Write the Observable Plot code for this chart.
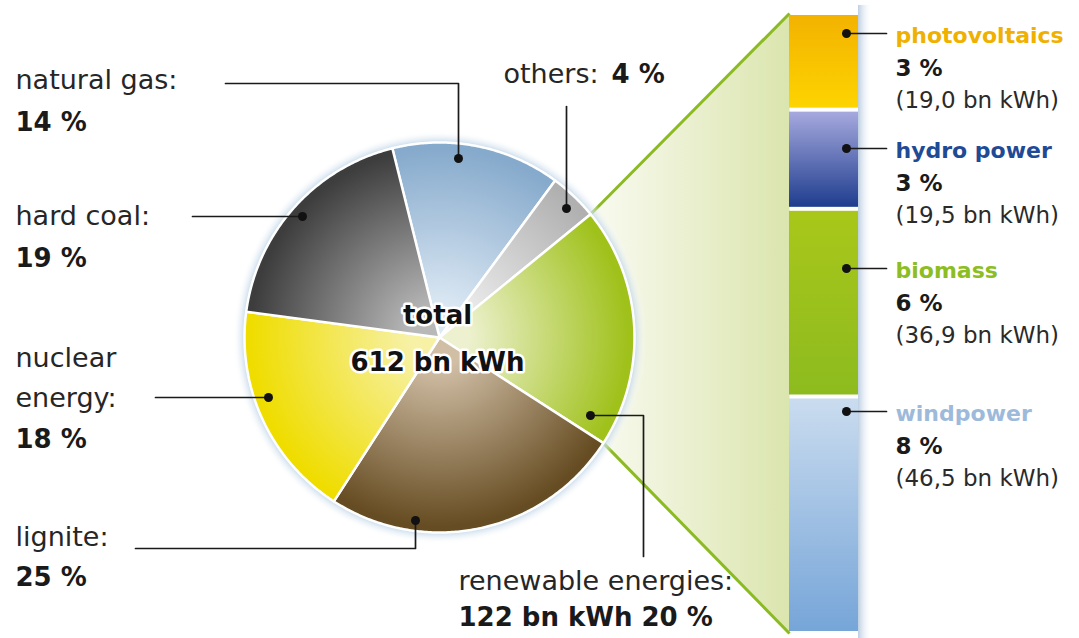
<!DOCTYPE html>
<html><head><meta charset="utf-8">
<script src="https://cdn.jsdelivr.net/npm/d3@7"></script>
<script src="https://cdn.jsdelivr.net/npm/@observablehq/plot@0.6"></script>
<style>
html,body{margin:0;padding:0;background:#fff;overflow:hidden;}
#chart{position:relative;width:1079px;height:638px;}
#chart svg{position:absolute;left:0;top:0;max-width:none;}
</style></head><body><div id="chart"></div>
<script>
// ---------------- DATA ----------------
const sources = ["natural gas", "others", "renewable energies", "lignite", "nuclear energy", "hard coal"];
const shares = [14, 4, 20, 25, 18, 19];            // % of gross electricity production
const totalKWh = 612;                               // bn kWh
const renewableKWh = 122;                           // bn kWh
const renewSources = ["photovoltaics", "hydro power", "biomass", "windpower"];
const renewShares = [3, 3, 6, 8];                   // %
const renewKWh = [19.0, 19.5, 36.9, 46.5];          // bn kWh

// ---------------- LAYOUT / STYLE ----------------
const W = 1079, H = 638;
const CX = 439, CY = 337, R = 195, START_DEG = -14;
const BAR_PX = {left: 789, right: 858, top: 13, bottom: 633};
const FONT = "DejaVu Sans";
const pieColors = [
  ["#dde9f4", "#86aacc"], // natural gas
  ["#efefef", "#b0b0b0"], // others
  ["#edf1cf", "#9fc11a"], // renewables
  ["#d0bea5", "#664c22"], // lignite
  ["#f7f1a6", "#efdd00"], // nuclear
  ["#b8b8b8", "#3d3d3d"]  // hard coal
];
const barColors = [["#f3b200", "#fdd400"], ["#a6a9de", "#1f3d8e"], ["#a9c71a", "#8dbb1f"], ["#cadcef", "#76a5d8"]];
const renewLabelColors = ["#f0b000", "#1f4a96", "#8cbd22", "#9dbadb"];

// ---------------- PLOT B: renewable bar ----------------
const renewTotal = d3.sum(renewKWh);
const barData = renewSources.map((s, i) => ({source: s, value: renewKWh[i], grad: `url(#bar-${i})`}));
const plotB = Plot.plot({
  width: W, height: H, margin: 0,
  style: {background: "transparent", overflow: "visible"},
  x: {domain: [0, 1], range: [BAR_PX.left, BAR_PX.right], axis: null},
  y: {domain: [0, renewTotal], range: [BAR_PX.bottom, BAR_PX.top], axis: null},
  color: {type: "identity"},
  marks: [
    Plot.rect([0], {x1: 1, x2: 1.2, y1: -0.01 * renewTotal, y2: 1.013 * renewTotal, fill: "url(#barShadow)"}),
    Plot.rectY(barData, Plot.stackY({x1: 0, x2: 1, y: "value", fill: "grad", reverse: true, insetTop: 2, insetBottom: 2}))
  ]
});
const xB = plotB.scale("x"), yB = plotB.scale("y");

// ---------------- PLOT A: pie + funnel (units: pie radius = 1) ----------------
const pieData = sources.map((s, i) => ({source: s, share: shares[i]}));
const a0 = START_DEG * Math.PI / 180;
const arcs = d3.pie().sort(null).value(d => d.share).startAngle(a0).endAngle(a0 + 2 * Math.PI)(pieData);
const polar = (a, r = 1) => ({x: r * Math.sin(a), y: r * Math.cos(a)});
function slicePts(arc) {
  const pts = [{x: 0, y: 0}];
  const n = Math.max(4, Math.ceil((arc.endAngle - arc.startAngle) / 0.01));
  for (let k = 0; k <= n; k++) pts.push(polar(arc.startAngle + (arc.endAngle - arc.startAngle) * k / n));
  pts.push({x: 0, y: 0});
  return pts;
}
const haloPts = d3.range(0, 361).map(d => polar(d * Math.PI / 180, 1.06));
const toU = (px, py) => ({x: (px - CX) / R, y: (CY - py) / R});
const ren = arcs[sources.indexOf("renewable energies")];
const pA = polar(ren.startAngle), pB = polar(ren.endAngle);
const barTL = toU(xB.apply(0), yB.apply(renewTotal));
const barBL = toU(xB.apply(0), yB.apply(0));
const funnelPts = [pA, barTL, barBL, pB, {x: 0, y: 0}, pA];

const plotA = Plot.plot({
  width: W, height: H, margin: 0,
  x: {domain: [-CX / R, (W - CX) / R], range: [0, W], axis: null},
  y: {domain: [-(H - CY) / R, CY / R], range: [H, 0], axis: null},
  marks: [
    Plot.line(funnelPts, {x: "x", y: "y", fill: "url(#funnel)", stroke: "none"}),
    Plot.link([[pA, barTL], [pB, barBL]], {x1: d => d[0].x, y1: d => d[0].y, x2: d => d[1].x, y2: d => d[1].y, stroke: "#8bba22", strokeWidth: 3}),
    Plot.line(haloPts, {x: "x", y: "y", fill: "url(#halo)", stroke: "none"}),
    ...arcs.map((arc, i) => Plot.line(slicePts(arc), {x: "x", y: "y", fill: `url(#pie-${i})`, stroke: "white", strokeWidth: 2.5, strokeLinejoin: "round"}))
  ]
});

// ---------------- PLOT C: annotations (pixel frame) ----------------
const pctTxt = v => `${v} %`;
const kwhTxt = v => `(${v.toFixed(1).replace(".", ",")} bn kWh)`;
const leftTexts = [
  {t: `${sources[0]}:`, x: 15, y: 88, b: false},
  {t: pctTxt(shares[0]), x: 15, y: 130, b: true},
  {t: `${sources[5]}:`, x: 15, y: 224, b: false},
  {t: pctTxt(shares[5]), x: 15, y: 266, b: true},
  {t: "nuclear", x: 15, y: 366, b: false},
  {t: "energy:", x: 15, y: 406, b: false},
  {t: pctTxt(shares[4]), x: 15, y: 447, b: true},
  {t: `${sources[3]}:`, x: 15, y: 545, b: false},
  {t: pctTxt(shares[3]), x: 15, y: 585, b: true},
  {t: `${sources[1]}:`, x: 503, y: 82, b: false},
  {t: pctTxt(shares[1]), x: 611, y: 82, b: true},
  {t: `${sources[2]}:`, x: 458, y: 589, b: false},
  {t: `${renewableKWh} bn kWh ${pctTxt(shares[2])}`, x: 458, y: 625, b: true}
];
const leaders = [
  [[225, 83], [458, 83], [458, 158]],
  [[192, 216], [302, 216]],
  [[155, 397], [268, 397]],
  [[135, 548], [415, 548], [415, 520]],
  [[566, 106], [566, 208]],
  [[643, 556], [643, 415], [590, 415]]
];
const rightBase = [42, 157, 277, 420];
renewSources.forEach((s, i) => leaders.push([[886, rightBase[i] - 9], [846, rightBase[i] - 9]]));
const leaderPts = leaders.flatMap((l, i) => l.map(p => ({id: i, x: p[0], y: p[1]})));
const dotPts = leaders.map(l => ({x: l[l.length - 1][0], y: l[l.length - 1][1]}));
const rightTexts = renewSources.flatMap((s, i) => [
  {t: s, x: 895, y: rightBase[i], c: renewLabelColors[i], fs: 22, fw: "bold"},
  {t: pctTxt(renewShares[i]), x: 895, y: rightBase[i] + 33, c: "#1a1a1a", fs: 23, fw: "bold"},
  {t: kwhTxt(renewKWh[i]), x: 895, y: rightBase[i] + 65, c: "#2a2a2a", fs: 23, fw: "normal"}
]);

const plotC = Plot.plot({
  width: W, height: H, margin: 0,
  style: {background: "transparent", overflow: "visible"},
  x: {domain: [0, W], range: [0, W], axis: null},
  y: {domain: [0, H], range: [0, H], axis: null},
  marks: [
    Plot.line(leaderPts, {x: "x", y: "y", z: "id", stroke: "#1a1a1a", strokeWidth: 1.7}),
    Plot.dot(dotPts, {x: "x", y: "y", r: 4.5, fill: "#111", stroke: "none"}),
    Plot.text(leftTexts.filter(d => !d.b), {x: "x", y: "y", text: "t", textAnchor: "start", lineAnchor: "bottom", fontFamily: FONT, fontSize: 27, fill: "#262626"}),
    Plot.text(leftTexts.filter(d => d.b), {x: "x", y: "y", text: "t", textAnchor: "start", lineAnchor: "bottom", fontFamily: FONT, fontSize: 26, fontWeight: "bold", fill: "#1a1a1a"}),
    ...rightTexts.map(d => Plot.text([d], {x: "x", y: "y", text: "t", textAnchor: "start", lineAnchor: "bottom", fontFamily: FONT, fontSize: d.fs, fontWeight: d.fw, fill: d.c})),
    Plot.text(["total", `${totalKWh} bn kWh`], {x: [437, 437], y: [323, 370], text: d => d, textAnchor: "middle", lineAnchor: "bottom", fontFamily: FONT, fontSize: 26, fontWeight: "bold", fill: "#111", stroke: "white", strokeWidth: 5})
  ]
});

// ---------------- gradients ----------------
const ns = "http://www.w3.org/2000/svg";
function addDefs(svg, build) {
  const defs = document.createElementNS(ns, "defs");
  build(defs);
  svg.insertBefore(defs, svg.firstChild);
}
function grad(defs, type, id, attrs, stops) {
  const g = document.createElementNS(ns, type);
  g.setAttribute("id", id);
  for (const k in attrs) g.setAttribute(k, attrs[k]);
  stops.forEach(([o, c, op]) => {
    const s = document.createElementNS(ns, "stop");
    s.setAttribute("offset", o); s.setAttribute("stop-color", c);
    if (op != null) s.setAttribute("stop-opacity", op);
    g.appendChild(s);
  });
  defs.appendChild(g);
}
const pcx = plotA.scale("x").apply(0), pcy = plotA.scale("y").apply(0);
const prr = plotA.scale("x").apply(1) - pcx;
addDefs(plotA, defs => {
  pieColors.forEach(([inner, outer], i) =>
    grad(defs, "radialGradient", `pie-${i}`, {gradientUnits: "userSpaceOnUse", cx: pcx, cy: pcy, r: prr, fx: pcx, fy: pcy},
      [[0, inner], [0.15, inner], [0.97, outer]]));
  grad(defs, "radialGradient", "halo", {gradientUnits: "userSpaceOnUse", cx: pcx, cy: pcy, r: prr * 1.06},
    [[0.9, "#b7cde3", 1], [0.95, "#c9dbeb", 0.8], [1, "#ffffff", 0]]);
  grad(defs, "linearGradient", "funnel", {gradientUnits: "userSpaceOnUse", x1: pcx + prr * 0.85, y1: 0, x2: xB.apply(0), y2: 0},
    [[0, "#f7f9ec"], [1, "#dbe5ae"]]);
});
addDefs(plotB, defs => {
  barColors.forEach(([top, bottom], i) =>
    grad(defs, "linearGradient", `bar-${i}`, {x1: 0, y1: 0, x2: 0, y2: 1}, [[0, top], [1, bottom]]));
  grad(defs, "linearGradient", "barShadow", {x1: 0, y1: 0, x2: 1, y2: 0}, [[0, "#bccfe2", 1], [1, "#ffffff", 0]]);
});

const chart = document.getElementById("chart");
chart.append(plotA, plotB, plotC);
</script></body></html>
